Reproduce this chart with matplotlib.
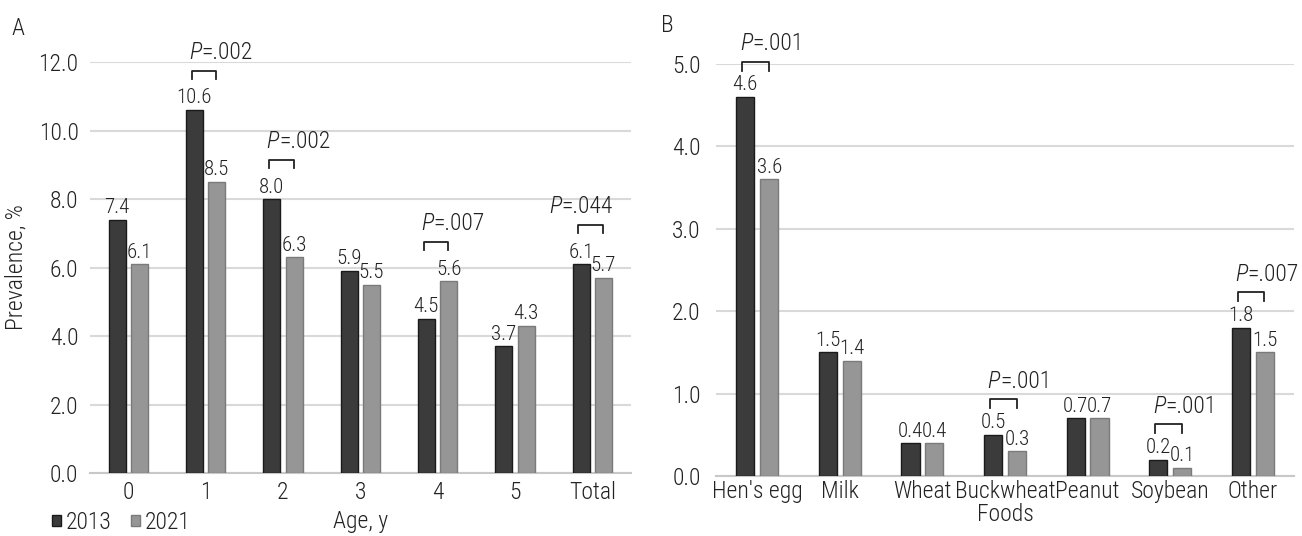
import numpy as np
import matplotlib
matplotlib.use("Agg")
import matplotlib.pyplot as plt
from matplotlib import font_manager as fm
from matplotlib.patches import Patch
from matplotlib.ticker import FormatStrFormatter


def wnum(w):
    return w if isinstance(w, int) else fm.weight_dict.get(w, 400)


# pick a light condensed sans that is installed
fam, fw = 'DejaVu Sans', 'normal'
for cand in ['Open Sans Condensed', 'Roboto Condensed', 'Asap Condensed', 'Barlow Condensed',
             'Archivo Narrow']:
    ents = [f for f in fm.fontManager.ttflist
            if f.name.startswith(cand) and f.style == 'normal' and wnum(f.weight) <= 400]
    if ents:
        best = min(ents, key=lambda f: abs(wnum(f.weight) - 300))
        fam, fw = best.name, wnum(best.weight)
        break
plt.rcParams['font.family'] = [fam, 'DejaVu Sans']
plt.rcParams['font.weight'] = fw
plt.rcParams['axes.labelweight'] = fw

# panel A data
ages = ['0', '1', '2', '3', '4', '5', 'Total']
age_2013 = [7.4, 10.6, 8.0, 5.9, 4.5, 3.7, 6.1]
age_2021 = [6.1, 8.5, 6.3, 5.5, 5.6, 4.3, 5.7]
age_pvals = [(1, '=.002'), (2, '=.002'), (4, '=.007'), (6, '=.044')]

# panel B data
foods = ["Hen's egg", 'Milk', 'Wheat', 'Buckwheat\nFoods', 'Peanut', 'Soybean', 'Other']
food_2013 = [4.6, 1.5, 0.4, 0.5, 0.7, 0.2, 1.8]
food_2021 = [3.6, 1.4, 0.4, 0.3, 0.7, 0.1, 1.5]
food_pvals = [(0, '=.001'), (3, '=.001'), (5, '=.001'), (6, '=.007')]

dark = '#3b3b3b'
light = '#969696'
grid = '#d9d9d9'
ink = '#222222'

fig = plt.figure(figsize=(13.02, 5.36), dpi=100)
axA = fig.add_axes([0.0688, 0.1175, 0.4158, 0.7668])
axB = fig.add_axes([0.5499, 0.1119, 0.4440, 0.7687])


def draw(ax, cats, v1, v2, pvals, ymax, step, off, leg, txt, ypad, xpad, last_right):
    x = np.arange(len(cats))
    w = 0.22
    b1 = ax.bar(x - 0.145, v1, w, color=dark, edgecolor='#1a1a1a', linewidth=1, zorder=3)
    b2 = ax.bar(x + 0.145, v2, w, color=light, edgecolor='#7a7a7a', linewidth=1, zorder=3)
    for bars, vals in [(b1, v1), (b2, v2)]:
        for r, v in zip(bars, vals):
            ax.text(r.get_x() + r.get_width() / 2, v + ymax * 0.006, '%.1f' % v,
                    ha='center', va='bottom', fontsize=15, color=ink)
    for i, rest in pvals:
        top = max(v1[i], v2[i]) + off
        xl, xr = i - 0.18, i + 0.14
        ax.plot([xl, xl, xr, xr], [top - leg, top, top, top - leg], color=ink,
                lw=1.3, clip_on=False, zorder=4)
        if last_right and i == len(cats) - 1:
            t = ax.text(xr + 0.13, top + txt, rest, ha='right', va='bottom',
                        fontsize=17, color=ink, clip_on=False)
            ax.annotate('P', xy=(0, 0), xycoords=t, ha='right', va='bottom',
                        fontsize=17, color=ink, style='italic', annotation_clip=False)
        else:
            t = ax.text(xl - 0.03, top + txt, 'P', ha='left', va='bottom', style='italic',
                        fontsize=17, color=ink, clip_on=False)
            ax.annotate(rest, xy=(1, 0), xycoords=t, ha='left', va='bottom',
                        fontsize=17, color=ink, annotation_clip=False)
    ax.set_xlim(-0.5, len(cats) - 0.5)
    ax.set_ylim(0, ymax)
    ax.set_yticks(np.arange(0, ymax + step / 2, step))
    ax.yaxis.set_major_formatter(FormatStrFormatter('%.1f'))
    ax.set_xticks(x)
    ax.set_xticklabels(cats, linespacing=1.0)
    ax.grid(axis='y', color=grid, lw=1.5, zorder=0)
    for s in ['top', 'right', 'left']:
        ax.spines[s].set_visible(False)
    ax.spines['bottom'].set_color('#c8c8c8')
    ax.spines['bottom'].set_linewidth(1.5)
    ax.tick_params(axis='both', length=0, labelsize=17, colors=ink)
    ax.tick_params(axis='y', pad=ypad)
    ax.tick_params(axis='x', pad=xpad)


draw(axA, ages, age_2013, age_2021, age_pvals, 12, 2.0, 1.15, 0.24, 0.2, 8, 6, True)
draw(axB, foods, food_2013, food_2021, food_pvals, 5, 1.0, 0.43, 0.11, 0.08, 11, 3, False)

axA.set_ylabel('Prevalence, %', fontsize=17, color=ink, labelpad=8)
axA.set_xlabel('Age, y', fontsize=17, color=ink, labelpad=4)

fig.text(0.009, 0.935, 'A', fontsize=17, color=ink)
fig.text(0.508, 0.94, 'B', fontsize=17, color=ink)

handles = [Patch(facecolor=dark, edgecolor='#1a1a1a'), Patch(facecolor=light, edgecolor='#7a7a7a')]
fig.legend(handles, ['2013', '2021'], loc='lower left', bbox_to_anchor=(0.024, -0.036),
           ncol=2, frameon=False, fontsize=17, handlelength=0.38, handleheight=0.38,
           handletextpad=0.2, columnspacing=0.8, labelcolor=ink)

fig.savefig('out.png', dpi=100)
